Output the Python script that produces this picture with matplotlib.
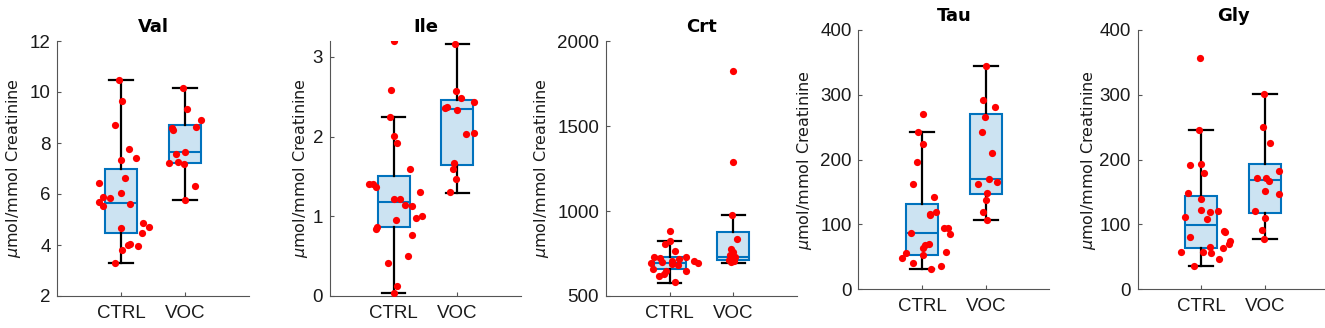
import matplotlib
matplotlib.use("Agg")
import matplotlib.pyplot as plt
import numpy as np

# ---------------- data ----------------
groups = ["CTRL", "VOC"]
titles = ["Val", "Ile", "Crt", "Tau", "Gly"]

# Val
val_ctrl = [10.49, 9.65, 8.72, 7.76, 7.43, 7.33, 6.61, 6.44, 6.03, 5.90, 5.83, 5.68,
            5.59, 5.51, 4.65, 4.85, 4.72, 4.48, 4.02, 4.00, 3.95, 3.79, 3.29]
val_ctrl_jit = [-0.04, 0.01, -0.10, 0.12, 0.23, 0.00, 0.06, -0.35, -0.01, -0.29, -0.17, -0.35,
                0.14, -0.28, -0.01, 0.35, 0.43, 0.33, 0.14, 0.10, 0.27, 0.02, -0.10]
val_voc = [10.17, 9.35, 8.92, 8.59, 8.51, 8.63, 7.57, 7.65, 7.23, 7.27, 7.18, 6.32, 5.76]
val_voc_jit = [-0.03, 0.04, 0.26, -0.20, -0.18, 0.17, -0.14, 0.00, -0.25, -0.11, -0.02, 0.16, 0.00]
val_box = {"q1": [4.49, 7.23], "med": [5.66, 7.65], "q3": [6.97, 8.71],
           "lo": [3.29, 5.76], "hi": [10.49, 10.17]}

# Ile
ile_ctrl = [3.20, 2.59, 2.25, 2.01, 1.92, 1.59, 1.40, 1.40, 1.37, 1.30, 1.22, 1.22,
            1.14, 1.13, 1.00, 0.98, 0.95, 0.86, 0.84, 0.76, 0.50, 0.41, 0.125, 0.033]
ile_ctrl_jit = [0.00, -0.04, -0.05, 0.00, 0.06, 0.26, -0.38, -0.33, -0.27, 0.42, 0.00, 0.10,
                0.18, 0.29, 0.44, 0.35, 0.03, -0.26, -0.27, 0.29, 0.23, -0.09, 0.05, 0.00]
ile_voc = [3.16, 2.57, 2.48, 2.44, 2.36, 2.37, 2.34, 2.03, 2.05, 1.67, 1.59, 1.47, 1.30]
ile_voc_jit = [-0.03, -0.02, 0.05, 0.26, -0.20, -0.17, 0.00, 0.14, 0.26, -0.06, -0.07, -0.02, -0.12]
ile_box = {"q1": [0.86, 1.646], "med": [1.18, 2.35], "q3": [1.50, 2.457],
           "lo": [0.04, 1.295], "hi": [2.25, 3.16]}

# Crt
crt_ctrl = [882, 822, 806, 767, 731, 725, 731, 692, 704, 708, 692, 657, 680, 686,
            649, 647, 632, 620, 584, 715, 700]
crt_ctrl_jit = [0.00, 0.00, -0.07, 0.09, -0.25, -0.15, 0.25, -0.29, 0.03, 0.38, 0.45, -0.26,
                0.13, 0.04, 0.25, -0.06, -0.09, -0.17, 0.08, 0.15, -0.12]
crt_voc = [1822, 1291, 974, 837, 774, 761, 741, 731, 721, 712, 708, 702, 715]
crt_voc_jit = [0.00, 0.00, -0.02, 0.05, -0.03, -0.01, -0.05, 0.03, -0.02, -0.07, 0.01, -0.03, 0.00]
crt_box = {"q1": [661, 710], "med": [696, 727], "q3": [727, 874],
           "lo": [578, 695], "hi": [821, 974]}

# Tau
tau_ctrl = [271, 242, 224, 196, 162, 142, 120, 116, 114, 95, 95, 85, 87, 69, 70, 63,
            58, 55.5, 52.4, 47.8, 40.6, 36, 30.8]
tau_ctrl_jit = [0.02, -0.06, 0.01, -0.08, -0.15, 0.19, 0.22, 0.12, 0.13, 0.35, 0.41, 0.44,
                -0.17, 0.04, 0.10, 0.02, 0.37, -0.25, 0.01, -0.31, -0.14, 0.29, 0.14]
tau_voc = [344.5, 292, 281, 266, 243, 211, 166, 170, 162, 149, 138, 119, 107.5]
tau_voc_jit = [0.00, -0.04, 0.14, -0.02, -0.06, 0.10, 0.18, 0.05, -0.13, 0.02, 0.01, -0.04, 0.02]
tau_box = {"q1": [53.5, 146.5], "med": [86.4, 170], "q3": [131.6, 270],
           "lo": [31.9, 107.5], "hi": [242, 344.5]}

# Gly
gly_ctrl = [357, 246, 192, 193, 180, 148, 139, 112, 123, 120, 121, 109, 90.5, 88, 80,
            74, 70, 66, 63, 58, 57, 56, 47, 36.5]
gly_ctrl_jit = [-0.02, -0.03, -0.17, 0.00, 0.05, -0.21, 0.00, -0.26, 0.00, 0.14, 0.26, 0.09,
                0.36, 0.37, -0.17, 0.45, 0.43, 0.14, 0.34, -0.31, 0.03, 0.16, 0.28, -0.12]
gly_voc = [301, 251, 226, 183, 171, 171, 167, 152, 146.5, 121, 110.5, 91.5, 77.6]
gly_voc_jit = [-0.02, -0.03, 0.08, 0.22, -0.13, 0.02, 0.06, 0.00, 0.22, -0.16, 0.01, -0.04, -0.01]
gly_box = {"q1": [64.3, 118], "med": [99.2, 168], "q3": [143.4, 194],
           "lo": [36.5, 77.6], "hi": [246, 301]}

ylims = [(2, 12), (0, 3.2), (500, 2000), (0, 400), (0, 400)]
yticks = [[2, 4, 6, 8, 10, 12], [0, 1, 2, 3], [500, 1000, 1500, 2000],
          [0, 100, 200, 300, 400], [0, 100, 200, 300, 400]]

panels = [
    (val_ctrl, val_ctrl_jit, val_voc, val_voc_jit, val_box),
    (ile_ctrl, ile_ctrl_jit, ile_voc, ile_voc_jit, ile_box),
    (crt_ctrl, crt_ctrl_jit, crt_voc, crt_voc_jit, crt_box),
    (tau_ctrl, tau_ctrl_jit, tau_voc, tau_voc_jit, tau_box),
    (gly_ctrl, gly_ctrl_jit, gly_voc, gly_voc_jit, gly_box),
]

# ---------------- layout ----------------
W, H = 1325, 328
fig = plt.figure(figsize=(W / 100, H / 100), dpi=100)
plt.rcParams['font.family'] = ['Liberation Sans', 'DejaVu Sans']

lefts_px = [57.5, 330, 606, 858.5, 1137.5]
tops_px = [41, 41, 41, 30, 30]
bots_px = [296, 296, 296, 289.3, 289.3]
ylab_x = [-0.18, -0.105, -0.29, -0.235, -0.205]

edge_c = (0.0, 0.447, 0.741)
face_c = (0.80, 0.889, 0.948)

for i, (c_vals, c_jit, v_vals, v_jit, box) in enumerate(panels):
    ax = fig.add_axes([lefts_px[i] / W, 1 - bots_px[i] / H, 191 / W,
                       (bots_px[i] - tops_px[i]) / H])
    stats = []
    for g in range(2):
        stats.append({"q1": box["q1"][g], "med": box["med"][g], "q3": box["q3"][g],
                      "whislo": box["lo"][g], "whishi": box["hi"][g], "fliers": []})
    ax.bxp(stats, positions=[1, 2], widths=0.5, capwidths=0.37, patch_artist=True,
           showfliers=False,
           boxprops=dict(facecolor=face_c, edgecolor=edge_c, linewidth=1.5),
           medianprops=dict(color=edge_c, linewidth=1.5),
           whiskerprops=dict(color='black', linewidth=1.6),
           capprops=dict(color='black', linewidth=1.6), zorder=2)
    ax.plot(1 + np.array(c_jit), c_vals, 'o', color='red', markersize=5.2,
            markeredgewidth=0, zorder=4)
    ax.plot(2 + np.array(v_jit), v_vals, 'o', color='red', markersize=5.2,
            markeredgewidth=0, zorder=4)

    ax.set_xlim(0, 3)
    ax.set_ylim(*ylims[i])
    ax.set_yticks(yticks[i])
    ax.set_xticks([1, 2])
    ax.set_xticklabels(groups)
    for s in ['top', 'right']:
        ax.spines[s].set_visible(False)
    for s in ['left', 'bottom']:
        ax.spines[s].set_color('#555555')
        ax.spines[s].set_linewidth(0.8)
    ax.tick_params(direction='in', length=3, width=0.8, color='#555555',
                   labelsize=13.5, labelcolor='#1a1a1a')
    ax.tick_params(axis='x', pad=6.5)
    ax.tick_params(axis='y', pad=5)
    ax.set_title(titles[i], fontsize=13, fontweight='bold', pad=6.5,
                 family='DejaVu Sans')
    ax.set_ylabel(r'$\mu$mol/mmol Creatinine', fontsize=11.5, family='DejaVu Sans',
                  color='#1a1a1a')
    ax.yaxis.set_label_coords(ylab_x[i], 0.5)

fig.savefig('out.png', dpi=100)
